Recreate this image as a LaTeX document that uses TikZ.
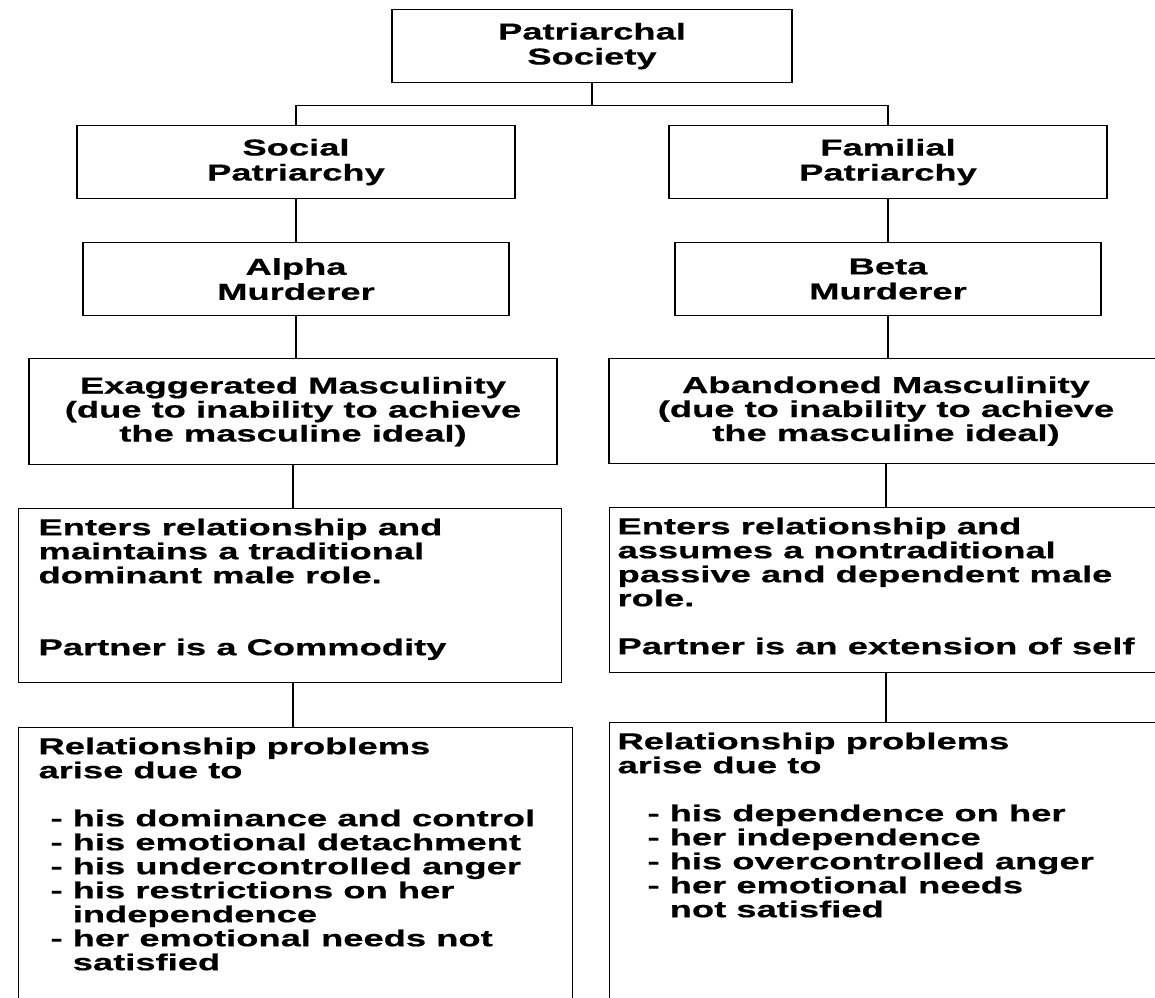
\documentclass[tikz,border=0pt]{standalone}
\usepackage{fontspec}
\newfontfamily\chartfont{Liberation Sans}[FakeStretch=1.58, BoldFeatures={FakeBold=0.6}]
\newcommand{\boxlines}[3]{\parbox[t][#2][t]{#1}{\raggedright #3}}
\newcommand{\dash}{\phantom{- }}

\tikzset{
	box/.style={draw, line width=1.1pt, inner sep=0pt, align=center,
		font=\chartfont\bfseries\fontsize{23}{24}\selectfont},
	titlebox/.style={box, anchor=north, font=\chartfont\bfseries\fontsize{23}{25}\selectfont},
	listbox/.style={box, anchor=north west, inner xsep=#1, inner ysep=10pt},
	link/.style={line width=1.1pt}
}

\begin{document}
\begin{tikzpicture}[x=1pt, y=-1pt]
	\useasboundingbox (0,0) rectangle (1155,997);
	\clip (0,0) rectangle (1155,997);
	
	% top of the tree
	\node [titlebox, minimum width=400pt, minimum height=73pt] (society) at (592,9) {Patriarchal\\Society};
	\node [titlebox, minimum width=438pt, minimum height=73pt] (social) at (296,125) {Social\\Patriarchy};
	\node [titlebox, minimum width=438pt, minimum height=73pt] (familial) at (888,125) {Familial\\Patriarchy};
	\node [titlebox, minimum width=426pt, minimum height=73pt] (alpha) at (296,242) {Alpha\\Murderer};
	\node [titlebox, minimum width=426pt, minimum height=73pt] (beta) at (888,242) {Beta\\Murderer};
	
	% masculinity
	\node [box, anchor=north, minimum width=528pt, minimum height=106pt] (exag) at (293,358)
		{Exaggerated Masculinity\\(due to inability to achieve\\the masculine ideal)};
	\node [box, anchor=north, minimum width=554pt, minimum height=105pt] (aband) at (886,358)
		{Abandoned Masculinity\\(due to inability to achieve\\the masculine ideal)};
	
	% relationship
	\node [listbox=20pt] (entL) at (18,508) {\boxlines{503pt}{154pt}{Enters relationship and\\
		maintains a traditional\\
		dominant male role.\\[48pt]
		Partner is a Commodity}};
	\node [listbox=8pt] (entR) at (609,507) {\boxlines{544pt}{145pt}{Enters relationship and\\
		assumes a nontraditional\\
		passive and dependent male\\
		role.\\[24pt]
		Partner is an extension of self}};
	
	% problems
	\node [listbox=20pt] (relL) at (18,727) {\boxlines{514pt}{274pt}{Relationship problems\\
		arise due to\\[24pt]
		\hspace*{12pt}- his dominance and control\\
		\hspace*{12pt}- his emotional detachment\\
		\hspace*{12pt}- his undercontrolled anger\\
		\hspace*{12pt}- his restrictions on her\\
		\hspace*{12pt}\dash independence\\
		\hspace*{12pt}- her emotional needs not\\
		\hspace*{12pt}\dash satisfied}};
	\node [listbox=8pt] (relR) at (609,722) {\boxlines{544pt}{274pt}{Relationship problems\\
		arise due to\\[24pt]
		\hspace*{30pt}- his dependence on her\\
		\hspace*{30pt}- her independence\\
		\hspace*{30pt}- his overcontrolled anger\\
		\hspace*{30pt}- her emotional needs\\
		\hspace*{30pt}\dash not satisfied}};
	
	% connectors
	\draw [link] (society.south) -- ++(0,22) coordinate (split);
	\draw [link] (social.north) |- (split) -| (familial.north);
	\draw [link] (social.south) -- (alpha.north);
	\draw [link] (familial.south) -- (beta.north);
	\draw [link] (alpha.south) -- (alpha.south |- exag.north);
	\draw [link] (beta.south) -- (beta.south |- aband.north);
	\draw [link] (exag.south) -- (exag.south |- entL.north);
	\draw [link] (aband.south) -- (aband.south |- entR.north);
	\draw [link] (exag.south |- entL.south) -- (exag.south |- relL.north);
	\draw [link] (aband.south |- entR.south) -- (aband.south |- relR.north);
\end{tikzpicture}
\end{document}
